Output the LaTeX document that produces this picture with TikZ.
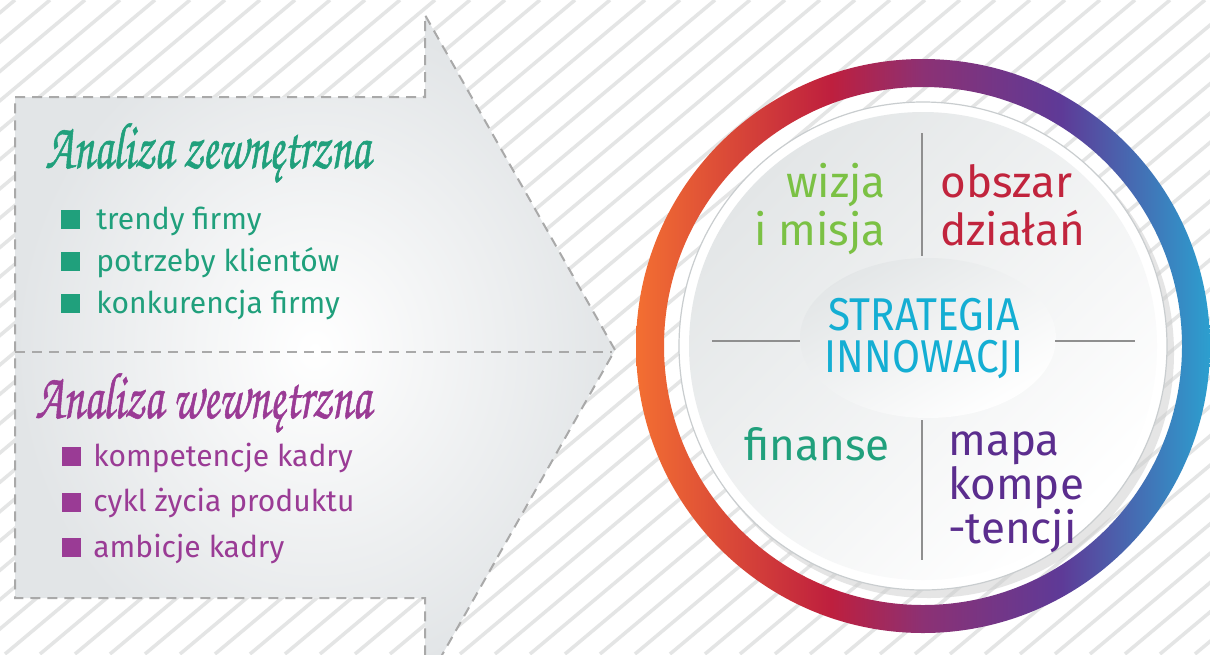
\documentclass[tikz,border=0pt]{standalone}
\usepackage{fontspec}
\setmainfont{Fira Sans}
\newfontfamily\narrowsans[FakeStretch=0.88]{Fira Sans}
\newfontfamily\handfont[FakeStretch=0.68,FakeBold=0.8]{texgyrechorus-mediumitalic.otf}

\definecolor{stripegray}{HTML}{E4E5E5}
\definecolor{dashgray}{HTML}{A9A9A9}
\definecolor{arrowgray}{HTML}{E2E5E7}
\definecolor{extgreen}{HTML}{20A07C}
\definecolor{intpurple}{HTML}{9A3B95}
\definecolor{wizjagreen}{HTML}{7BC144}
\definecolor{obszarred}{HTML}{C1243D}
\definecolor{stratcyan}{HTML}{14AED3}
\definecolor{mapapurple}{HTML}{5B2D8E}
\definecolor{divgray}{HTML}{8F8F8F}
\definecolor{discgray}{HTML}{E3E6E7}
\definecolor{rimgray}{HTML}{C9CDCF}
\definecolor{ringorange}{HTML}{F36F32}
\definecolor{ringred}{HTML}{BE1F3E}
\definecolor{ringmag}{HTML}{8C3174}
\definecolor{ringpurple}{HTML}{5E3A97}
\definecolor{ringblue}{HTML}{2C9FCF}

\pgfdeclarehorizontalshading{ringgrad}{100bp}{color(0bp)=(ringorange); color(25bp)=(ringorange);
  color(42bp)=(ringred); color(50bp)=(ringmag); color(62bp)=(ringpurple);
  color(75bp)=(ringblue); color(100bp)=(ringblue)}

\begin{document}
\begin{tikzpicture}[x=0.5pt,y=-0.5pt,
    stripe/.style={draw=stripegray, line width=1.75pt},
    arrowedge/.style={draw=dashgray, line width=1pt, dash pattern=on 5pt off 3.5pt},
    divline/.style={draw=divgray, line width=1pt},
    bulletsq/.style={minimum size=9.5pt, inner sep=0pt},
    itemtext/.style={anchor=base west, inner sep=0pt, font=\fontsize{15}{18}\selectfont},
    headtext/.style={anchor=base west, inner sep=0pt, font=\handfont\fontsize{33}{36}\selectfont},
    circtext/.style={inner sep=0pt, font=\fontsize{22}{24}\selectfont}]
  \useasboundingbox (0,0) rectangle (1210,654);
  \clip (0,0) rectangle (1210,654);
  \fill[white] (0,0) rectangle (1210,654);
  % hatched background
  \foreach \s in {-800,-765,...,1230}
    \draw[stripe] (\s,654) -- ++(780,-654);

  % big arrow
  \shadedraw[inner color=white, outer color=arrowgray, arrowedge]
    (15,97) -- (425,97) -- (425,15) -- (615,350) -- (425,685) -- (425,598) -- (15,598) -- cycle;
  \draw[arrowedge] (15,352) -- (612,352);

  \node[headtext, text=extgreen] (ext) at (45,168) {Analiza zewnętrzna};
  \foreach \t [count=\i] in {trendy firmy, potrzeby klientów, konkurencja firmy} {
    \node[bulletsq, fill=extgreen] (extsq\i) at (70.5,{219.5+42*(\i-1)}) {};
    \node[itemtext, text=extgreen] (ext\i) at (96,{229+42*(\i-1)}) {\t};
  }

  \node[headtext, text=intpurple] (int) at (35,418) {Analiza wewnętrzna};
  \foreach \t [count=\i] in {kompetencje kadry, cykl życia produktu, ambicje kadry} {
    \node[bulletsq, fill=intpurple] (intsq\i) at (71,{456.5+45.5*(\i-1)}) {};
    \node[itemtext, text=intpurple] (int\i) at (93,{466+45.5*(\i-1)}) {\t};
  }

  % ring and disc
  \shade[shading=ringgrad, even odd rule] (923,346) circle (287) circle (259);
  \fill[gray!40, opacity=.5] (929,353) circle (245);
  \filldraw[fill=white, draw=rimgray, line width=.6pt] (923,346) circle (244);
  \shade[top color=discgray, bottom color=white, shading angle=45] (923,346) circle (234);
  \shade[top color=discgray, bottom color=white, shading angle=30] (928,338) ellipse (128 and 80);

  \draw[divline] (922,133) -- (922,256);
  \draw[divline] (922,420) -- (922,560);
  \draw[divline] (712,341) -- (800,341);
  \draw[divline] (1055,341) -- (1135,341);

  \node[circtext, anchor=base east, align=right, text=wizjagreen] (wizja) at (886,245) {wizja\\i misja};
  \node[circtext, anchor=base west, align=left, text=obszarred] (obszar) at (940,245) {obszar\\działań};
  \node[anchor=base, inner sep=0pt, align=center, text=stratcyan, font=\narrowsans\fontsize{23}{21}\selectfont] (strat) at (924,372) {STRATEGIA\\INNOWACJI};
  \node[circtext, anchor=base east, text=extgreen] (finanse) at (890,460) {finanse};
  \node[circtext, anchor=base west, align=left, text=mapapurple, font=\fontsize{22}{22}\selectfont] (mapa) at (948,543) {mapa\\kompe\\-tencji};
\end{tikzpicture}
\end{document}
